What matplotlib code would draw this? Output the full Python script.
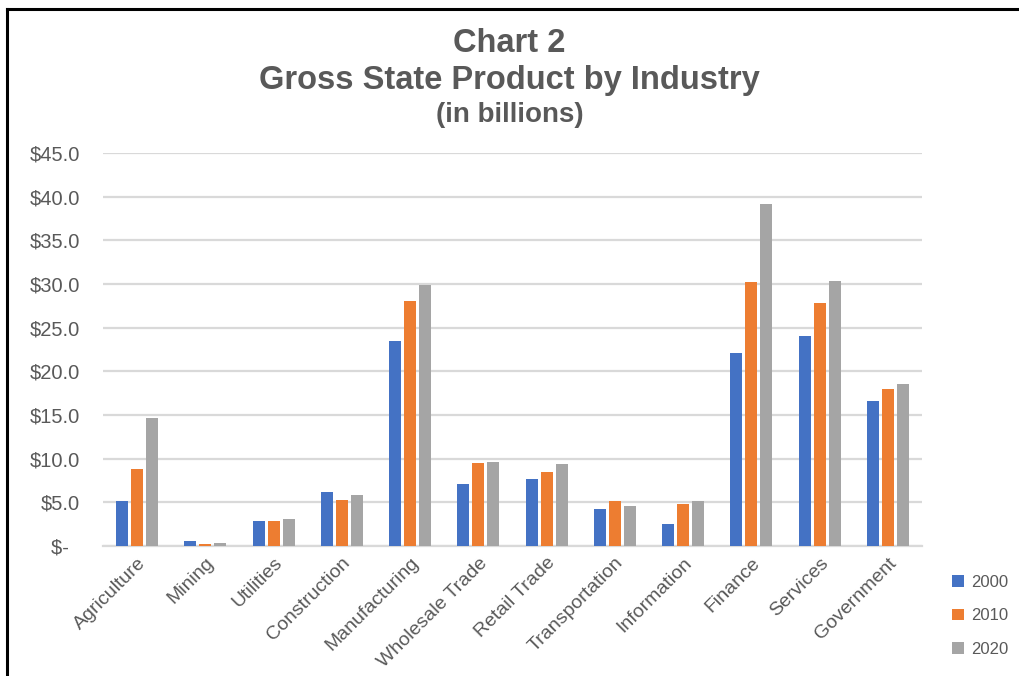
import matplotlib
matplotlib.use("Agg")
import matplotlib.pyplot as plt
import numpy as np
from matplotlib.lines import Line2D
from matplotlib.ticker import FuncFormatter, MultipleLocator

categories = ["Agriculture", "Mining", "Utilities", "Construction", "Manufacturing",
              "Wholesale Trade", "Retail Trade", "Transportation", "Information",
              "Finance", "Services", "Government"]
years = ["2000", "2010", "2020"]
v2000 = [5.1, 0.6, 2.9, 6.2, 23.5, 7.1, 7.7, 4.2, 2.5, 22.1, 24.0, 16.6]
v2010 = [8.8, 0.2, 2.9, 5.3, 28.0, 9.5, 8.5, 5.1, 4.8, 30.2, 27.8, 18.0]
v2020 = [14.7, 0.3, 3.1, 5.8, 29.9, 9.6, 9.4, 4.6, 5.1, 39.2, 30.4, 18.5]
series = [v2000, v2010, v2020]
colors = ["#4472C4", "#ED7D31", "#A5A5A5"]

W, H = 1019, 676
fig = plt.figure(figsize=(W / 100, H / 100), dpi=100)
fig.patch.set_facecolor("white")
plt.rcParams['font.family'] = ['Liberation Sans', 'DejaVu Sans']

ax = fig.add_axes([103 / W, 1 - 546 / H, (922 - 103) / W, (546 - 153) / H])
x = np.arange(len(categories))
pitch = 0.22
bw = 0.176
bars = []
for i, (vals, c) in enumerate(zip(series, colors)):
    b = ax.bar(x + (i - 1) * pitch, vals, width=bw, color=c, zorder=3, label=years[i])
    bars.append(b)

ax.set_xlim(-0.5, len(categories) - 0.5)
ax.set_ylim(0, 45)
ax.yaxis.set_major_locator(MultipleLocator(5))
ax.yaxis.set_major_formatter(FuncFormatter(lambda v, p: "$-  " if abs(v) < 1e-9 else f"${v:.1f}"))
ax.grid(axis="y", color="#D9D9D9", linewidth=1.6, zorder=0)
for s in ["top", "right", "left"]:
    ax.spines[s].set_visible(False)
ax.spines["bottom"].set_color("#D9D9D9")
ax.spines["bottom"].set_linewidth(1.6)
ax.tick_params(axis="y", length=0, pad=16.5, labelsize=14.5, labelcolor="#595959")
ax.tick_params(axis="x", length=0, pad=6, labelsize=14, labelcolor="#595959")
ax.set_xticks(x)
ax.set_xticklabels(categories, rotation=45, ha="right", rotation_mode="anchor")

# Title
fig.text(0.5, 1 - 44 / H, "Chart 2", ha="center", va="center", fontsize=23.5,
         fontweight="bold", color="#595959")
fig.text(0.5, 1 - 80 / H, "Gross State Product by Industry", ha="center", va="center",
         fontsize=23.5, fontweight="bold", color="#595959")
fig.text(0.5, 1 - 115 / H, "(in billions)", ha="center", va="center", fontsize=20,
         fontweight="bold", color="#595959")

# Legend
leg = fig.legend(handles=bars, labels=years, loc="upper left",
                 bbox_to_anchor=(937 / W, 1 - 560 / H), frameon=False,
                 fontsize=12, labelcolor="#595959", handlelength=0.7,
                 handleheight=0.7, handletextpad=0.45, labelspacing=1.1)

# Border
fig.add_artist(Line2D([7 / W, 7 / W], [0, 1 - 9 / H], transform=fig.transFigure,
                      color="black", linewidth=2.2))
fig.add_artist(Line2D([7 / W, 1], [1 - 9 / H, 1 - 9 / H], transform=fig.transFigure,
                      color="black", linewidth=2.2))

fig.savefig("out.png", dpi=100)
